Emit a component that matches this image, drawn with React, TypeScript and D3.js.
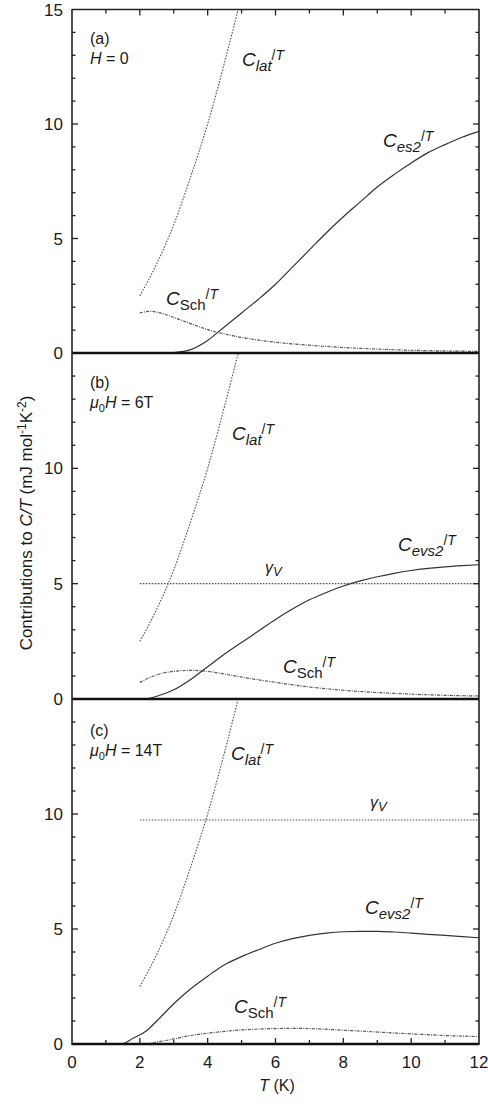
import React from 'react';
import * as d3 from 'd3';

// lattice contribution (same in every panel)
const latT = [2.0, 2.5, 3.0, 3.5, 4.0, 4.5, 4.9];
const latVal = [2.5, 3.9, 5.6, 7.7, 10.0, 12.7, 15.0];

// panel (a) H = 0
const es2T = [2.7, 3.0, 3.5, 4.0, 4.5, 5.0, 5.5, 6.0, 6.5, 7.0, 7.5, 8.0, 8.5, 9.0, 9.5, 10.0, 10.5, 11.0, 11.5, 12.0];
const es2Val = [0, 0.02, 0.15, 0.55, 1.15, 1.75, 2.35, 3.0, 3.75, 4.5, 5.25, 5.95, 6.6, 7.25, 7.8, 8.3, 8.75, 9.1, 9.42, 9.68];
const schAT = [2.0, 2.3, 2.6, 3.0, 3.5, 4.0, 4.5, 5.0, 6.0, 7.0, 8.0, 9.0, 10.0, 11.0, 12.0];
const schAVal = [1.75, 1.82, 1.75, 1.55, 1.28, 1.02, 0.83, 0.68, 0.47, 0.34, 0.24, 0.17, 0.12, 0.09, 0.07];

// panel (b) 6 T
const evsBT = [2.2, 2.5, 3.0, 3.5, 4.0, 4.5, 5.0, 5.5, 6.0, 6.5, 7.0, 7.5, 8.0, 8.5, 9.0, 9.5, 10.0, 10.5, 11.0, 11.5, 12.0];
const evsBVal = [0, 0.12, 0.4, 0.85, 1.4, 1.95, 2.45, 2.95, 3.45, 3.9, 4.3, 4.62, 4.9, 5.12, 5.3, 5.45, 5.57, 5.66, 5.73, 5.78, 5.82];
const schBT = [2.0, 2.5, 3.0, 3.5, 4.0, 4.5, 5.0, 6.0, 7.0, 8.0, 9.0, 10.0, 11.0, 12.0];
const schBVal = [0.72, 1.05, 1.2, 1.24, 1.2, 1.08, 0.95, 0.72, 0.52, 0.38, 0.28, 0.21, 0.16, 0.13];
const gammaB = 5.0;

// panel (c) 14 T
const evsCT = [1.0, 1.45, 1.8, 2.2, 2.5, 3.0, 3.5, 4.0, 4.5, 5.0, 5.5, 6.0, 6.5, 7.0, 7.5, 8.0, 8.5, 9.0, 9.5, 10.0, 11.0, 12.0];
const evsCVal = [0, 0, 0.25, 0.58, 1.0, 1.75, 2.4, 2.95, 3.45, 3.8, 4.1, 4.38, 4.58, 4.72, 4.82, 4.88, 4.9, 4.9, 4.87, 4.82, 4.72, 4.62];
const schCT = [2.2, 2.5, 3.0, 3.5, 4.0, 4.5, 5.0, 5.5, 6.0, 6.5, 7.0, 8.0, 9.0, 10.0, 11.0, 12.0];
const schCVal = [0, 0.08, 0.22, 0.37, 0.47, 0.55, 0.61, 0.65, 0.67, 0.68, 0.67, 0.6, 0.52, 0.44, 0.37, 0.32];
const gammaC = 9.74;

const gammaT = [2, 12];
const xTicks = [0, 2, 4, 6, 8, 10, 12];

const FONT = '"Liberation Sans", Arial, sans-serif';
const INK = '#333';

const x = d3.scaleLinear().domain([0, 12]).range([72, 479]);

const zip = (t: number[], v: number[]) => t.map((d, i) => [d, v[i]] as [number, number]);

const dotted = '1.6,1.4';
const dashDot = '3,1.2,1,1.2';

function CLabel({ x, y, sub, upright }: { x: number; y: number; sub: string; upright?: boolean }) {
  return (
    <text x={x} y={y} fontFamily={FONT} fill="#1a1a1a">
      <tspan fontSize={19} fontStyle="italic">C</tspan>
      <tspan fontSize={15} dy={5} fontStyle={upright ? 'normal' : 'italic'}>{sub}</tspan>
      <tspan fontSize={14} dy={-11}>/</tspan>
      <tspan fontSize={14} fontStyle="italic">T</tspan>
    </text>
  );
}

function Gamma({ x, y }: { x: number; y: number }) {
  return (
    <text x={x} y={y} fontFamily={FONT} fill="#1a1a1a">
      <tspan fontSize={16} fontStyle="italic">γ</tspan>
      <tspan fontSize={13} dy={3} fontStyle="italic">V</tspan>
    </text>
  );
}

const panels = [
  {
    id: 'a', top: 9.5, bottom: 353, labels: [0, 5, 10, 15],
    tag: '(a)', tagY: 44,
    solid: zip(es2T, es2Val), sch: zip(schAT, schAVal), gamma: null as number | null,
    cl: { lat: [242, 66], main: [383, 147], mainSub: 'es2', sch: [166, 305] },
    gammaPos: null as number[] | null,
  },
  {
    id: 'b', top: 353, bottom: 699, labels: [0, 5, 10],
    tag: '(b)', tagY: 388,
    solid: zip(evsBT, evsBVal), sch: zip(schBT, schBVal), gamma: gammaB,
    cl: { lat: [232, 440], main: [398, 551], mainSub: 'evs2', sch: [283, 673] },
    gammaPos: [265, 573],
  },
  {
    id: 'c', top: 699, bottom: 1044, labels: [0, 5, 10],
    tag: '(c)', tagY: 736,
    solid: zip(evsCT, evsCVal), sch: zip(schCT, schCVal), gamma: gammaC,
    cl: { lat: [231, 760], main: [365, 914], mainSub: 'evs2', sch: [234, 1013] },
    gammaPos: [370, 808],
  },
];

export default function App() {
  const [x0, x1] = x.range();
  return (
    <svg width={488} height={1104} style={{ position: 'absolute', left: 0, top: 0, background: '#fff' }}>
      <defs>
        {panels.map((p) => (
          <clipPath id={`clip-${p.id}`} key={p.id}>
            <rect x={x0} y={p.top} width={x1 - x0} height={p.bottom - p.top} />
          </clipPath>
        ))}
      </defs>
      {panels.map((p) => {
        const y = d3.scaleLinear().domain([0, 15]).range([p.bottom, p.top]);
        const line = d3
          .line<[number, number]>()
          .x((d) => x(d[0]))
          .y((d) => y(d[1]))
          .curve(d3.curveMonotoneX);
        const minor = d3.range(1, 15);
        return (
          <g key={p.id}>
            <g clipPath={`url(#clip-${p.id})`} fill="none">
              <path d={line(zip(latT, latVal)) || ''} stroke="#555" strokeWidth={1.1} strokeDasharray={dotted} />
              {p.gamma !== null && (
                <path
                  d={line(gammaT.map((t) => [t, p.gamma as number] as [number, number])) || ''}
                  stroke="#555"
                  strokeWidth={1.1}
                  strokeDasharray={dotted}
                />
              )}
              <path d={line(p.sch) || ''} stroke="#555" strokeWidth={1.2} strokeDasharray={dashDot} />
              <path d={line(p.solid) || ''} stroke={INK} strokeWidth={1.2} />
            </g>
            {/* left and right ticks, inward */}
            {minor.map((v) => {
              const len = v % 5 === 0 ? 6 : 3.5;
              return (
                <g key={v} stroke="#222" strokeWidth={1.3}>
                  <line x1={x0} x2={x0 + len} y1={y(v)} y2={y(v)} />
                  <line x1={x1} x2={x1 - len} y1={y(v)} y2={y(v)} />
                </g>
              );
            })}
            {p.labels.map((v) => (
              <text
                key={v}
                x={63}
                y={y(v)}
                dy="0.36em"
                textAnchor="end"
                fontFamily={FONT}
                fontSize={17}
                fill="#1a1a1a"
              >
                {v}
              </text>
            ))}
            <text x={90} y={p.tagY} fontFamily={FONT} fontSize={16} fill="#1a1a1a">
              {p.tag}
            </text>
            {p.id === 'a' ? (
              <text x={90} y={p.tagY + 20} fontFamily={FONT} fontSize={16} fill="#1a1a1a">
                <tspan fontStyle="italic">H</tspan> = 0
              </text>
            ) : (
              <text x={90} y={p.tagY + 20} fontFamily={FONT} fontSize={16} fill="#1a1a1a">
                <tspan fontStyle="italic">μ</tspan>
                <tspan fontSize={11} dy={4}>0</tspan>
                <tspan fontStyle="italic" dy={-4}>H</tspan> = {p.id === 'b' ? '6T' : '14T'}
              </text>
            )}
            <CLabel x={p.cl.lat[0]} y={p.cl.lat[1]} sub="lat" />
            <CLabel x={p.cl.main[0]} y={p.cl.main[1]} sub={p.cl.mainSub} />
            <CLabel x={p.cl.sch[0]} y={p.cl.sch[1]} sub="Sch" upright />
            {p.gammaPos && <Gamma x={p.gammaPos[0]} y={p.gammaPos[1]} />}
            <line x1={x0} x2={x1} y1={p.bottom} y2={p.bottom} stroke="#111" strokeWidth={2.4} />
          </g>
        );
      })}
      {/* frame */}
      <line x1={x0} x2={x1} y1={9.5} y2={9.5} stroke="#222" strokeWidth={1.6} />
      <line x1={x0} x2={x0} y1={9} y2={1045} stroke="#222" strokeWidth={1.6} />
      <line x1={x1} x2={x1} y1={9} y2={1045} stroke="#222" strokeWidth={1.6} />
      {/* top and bottom T ticks */}
      {d3.range(1, 12).map((t) => (
        <g key={t} stroke="#222" strokeWidth={1.3}>
          <line x1={x(t)} x2={x(t)} y1={9.5} y2={9.5 + (t % 2 === 0 ? 6 : 4)} />
          <line x1={x(t)} x2={x(t)} y1={1044} y2={1044 - (t % 2 === 0 ? 6 : 4)} />
        </g>
      ))}
      {xTicks.map((t) => (
        <text key={t} x={x(t)} y={1068} textAnchor="middle" fontFamily={FONT} fontSize={17} fill="#1a1a1a">
          {t}
        </text>
      ))}
      <text x={277} y={1091} textAnchor="middle" fontFamily={FONT} fontSize={16} fill="#1a1a1a">
        <tspan fontStyle="italic">T</tspan> (K)
      </text>
      <text
        transform="translate(32,523) rotate(-90)"
        textAnchor="middle"
        fontFamily={FONT}
        fontSize={17}
        fill="#1a1a1a"
      >
        Contributions to <tspan fontStyle="italic">C/T</tspan> (mJ mol
        <tspan fontSize={12} dy={-6}>-1</tspan>
        <tspan dy={6}>K</tspan>
        <tspan fontSize={12} dy={-6}>-2</tspan>
        <tspan dy={6}>)</tspan>
      </text>
    </svg>
  );
}
